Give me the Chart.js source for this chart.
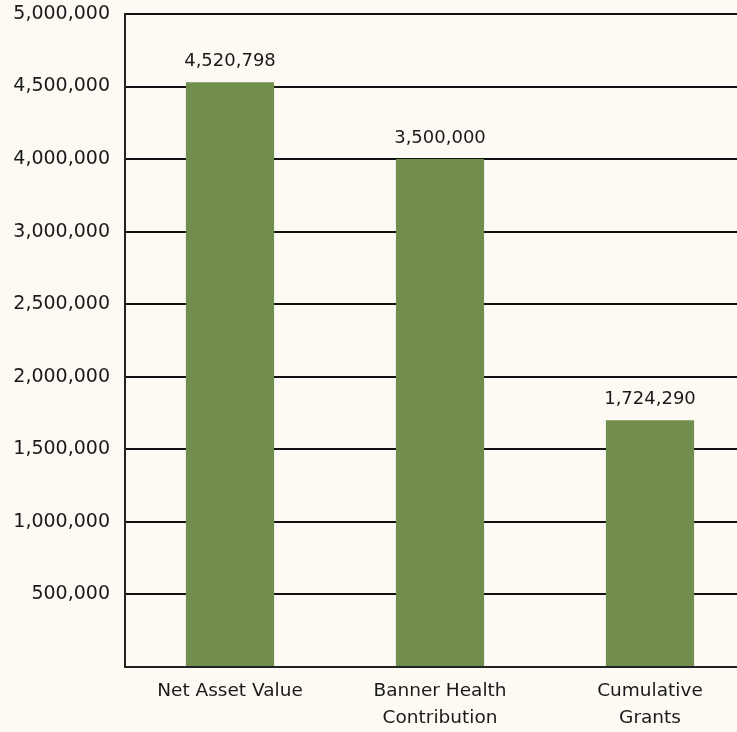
<!DOCTYPE html>
<html>
<head>
<meta charset="utf-8">
<script src="https://cdn.jsdelivr.net/npm/chart.js@4.4.1/dist/chart.umd.min.js"></script>
<style>
  html, body { margin: 0; padding: 0; background: #fdfaf4; overflow: hidden; }
  #wrap { width: 755px; height: 732px; }
</style>
</head>
<body>
<div id="wrap"><canvas id="grafico"></canvas></div>
<script>
// Categorias e valores
let categorias = [['Net Asset Value'], ['Banner Health', 'Contribution'], ['Cumulative', 'Grants']];
// altura das barras como aparecem na figura
let valores = [4030000, 3500000, 1700000];
// textos impressos em cima das barras
let rotulosValores = ['4,520,798', '3,500,000', '1,724,290'];
// rótulos do eixo Y exatamente como na figura (o 3,500,000 não aparece)
let rotulosY = ['', '500,000', '1,000,000', '1,500,000', '2,000,000', '2,500,000', '3,000,000', '4,000,000', '4,500,000', '5,000,000'];

const fonteNum = 'DejaVu Sans';

// plugin simples para escrever o valor em cima de cada barra
const rotuloBarras = {
  id: 'rotuloBarras',
  afterDatasetsDraw(chart) {
    const ctx = chart.ctx;
    const meta = chart.getDatasetMeta(0);
    ctx.save();
    ctx.font = '18px "' + fonteNum + '"';
    ctx.fillStyle = '#1a1a1a';
    ctx.textAlign = 'center';
    ctx.textBaseline = 'middle';
    meta.data.forEach(function (barra, i) {
      ctx.fillText(rotulosValores[i], barra.x, barra.y - 21);
    });
    ctx.restore();
  }
};

const ctx1 = document.getElementById('grafico').getContext('2d');
new Chart(ctx1, {
  type: 'bar',
  data: {
    labels: categorias,
    datasets: [{
      data: valores,
      backgroundColor: 'rgb(114, 142, 78)',
      borderWidth: 0,
      categoryPercentage: 1,
      barPercentage: 0.42
    }]
  },
  options: {
    responsive: true,
    maintainAspectRatio: false,
    animation: false,
    layout: { padding: { top: 14, right: 0, left: 0, bottom: 0 } },
    plugins: {
      legend: { display: false },
      tooltip: { enabled: false }
    },
    scales: {
      y: {
        min: 0,
        max: 4500000,
        afterFit: function (scale) {
          scale.width = 125;
          // sem espaço extra em cima, a grade de cima fica em y=14
          scale.paddingTop = 0;
          scale.paddingBottom = 0;
        },
        ticks: {
          stepSize: 500000,
          padding: 15,
          color: '#1a1a1a',
          font: { family: fonteNum, size: 19 },
          callback: function (value, index) { return rotulosY[index]; }
        },
        grid: { color: '#111', lineWidth: 2, drawTicks: false },
        border: { display: true, color: '#222', width: 2 }
      },
      x: {
        afterFit: function (scale) { scale.height = 65; },
        ticks: {
          padding: 3,
          maxRotation: 0,
          color: '#1a1a1a',
          font: { family: 'DejaVu Sans', size: 18.5, lineHeight: 1.45 }
        },
        grid: { display: false },
        border: { display: true, color: '#222', width: 2 }
      }
    }
  },
  plugins: [rotuloBarras]
});
</script>
</body>
</html>
